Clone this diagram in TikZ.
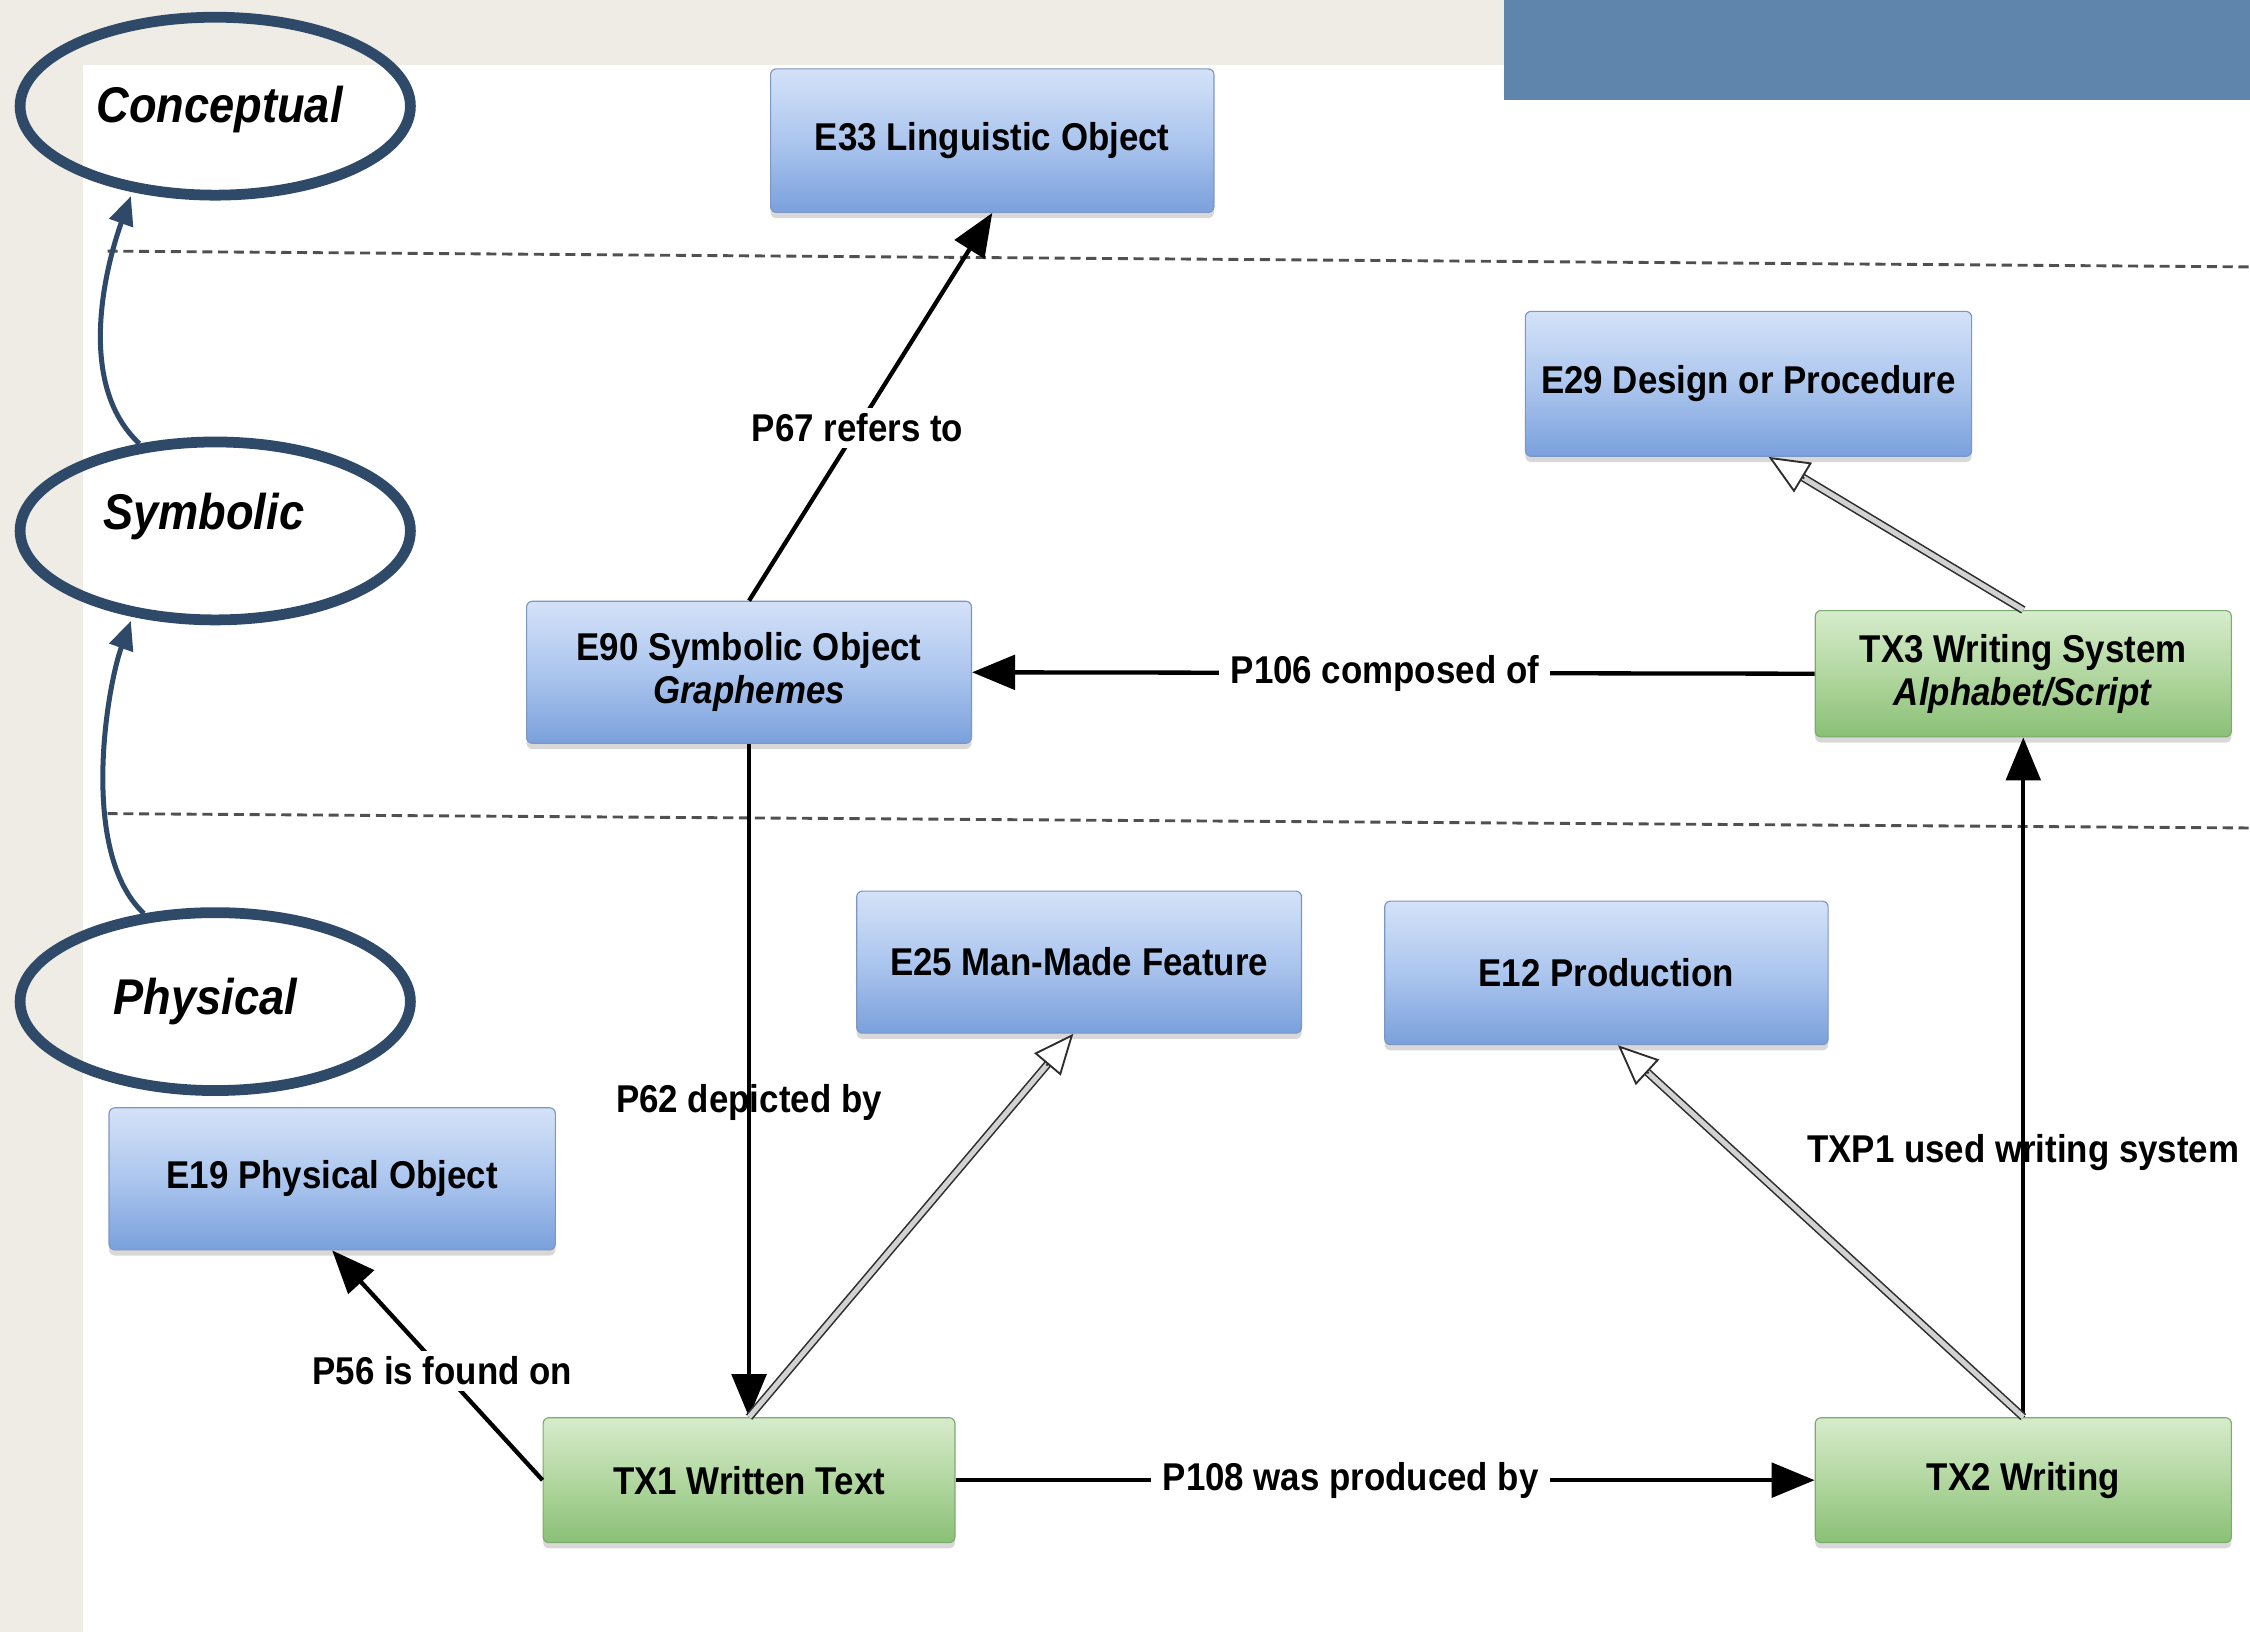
\documentclass[tikz,border=0pt]{standalone}
\usepackage{fontspec}
\setmainfont{Liberation Sans}[FakeStretch=0.9]
\usetikzlibrary{arrows.meta,shapes.geometric,shadows,calc}

\definecolor{bgbeige}{RGB}{239,235,229}
\definecolor{topblue}{RGB}{96,133,172}
\definecolor{navy}{RGB}{47,74,105}
\definecolor{bluetop}{RGB}{212,226,248}
\definecolor{bluemid}{RGB}{172,198,238}
\definecolor{bluebot}{RGB}{122,160,220}
\definecolor{blueedge}{RGB}{125,150,195}
\definecolor{greentop}{RGB}{214,236,204}
\definecolor{greenmid}{RGB}{178,215,160}
\definecolor{greenbot}{RGB}{138,192,118}
\definecolor{greenedge}{RGB}{125,170,110}
\definecolor{dashgray}{RGB}{80,80,80}

\begin{document}
\begin{tikzpicture}[x=1pt,y=-1pt,
  boxfont/.style={font=\fontsize{27}{30}\selectfont\bfseries},
  bluebox/.style={rectangle, rounded corners=4pt, draw=blueedge, line width=0.8pt,
     top color=bluetop, bottom color=bluebot, middle color=bluemid,
     align=center, boxfont, text=black, inner sep=0pt,
     drop shadow={shadow xshift=0pt, shadow yshift=-4pt, opacity=0.3}},
  greenbox/.style={bluebox, draw=greenedge,
     top color=greentop, bottom color=greenbot, middle color=greenmid},
  layer/.style={ellipse, draw=navy, line width=7.5pt, minimum width=272pt,
     minimum height=124pt, inner sep=0pt},
  ltext/.style={font=\fontsize{35}{38}\selectfont\bfseries\itshape, inner sep=0pt},
  lab/.style={boxfont, fill=white, inner xsep=8pt, inner ysep=4pt},
  labnf/.style={boxfont, inner sep=2pt},
  rel/.style={line width=3pt, -{Triangle[length=30pt,width=24pt]}},
  isa/.style={draw=gray!35!black, double=gray!35, double distance=3.5pt, line width=1.1pt},
  isatip/.style={draw=gray!35!black, line width=1.3pt,
     -{Triangle[length=28pt,width=24pt,fill=white]}},
  upcurve/.style={draw=navy, line width=3.5pt, shorten >=3pt,
     -{Triangle[length=20pt,width=17pt]}},
  dashline/.style={draw=dashgray, line width=2pt, dash pattern=on 7pt off 4pt}
]
% background
\useasboundingbox (0,0) rectangle (1568,1137);
\fill[bgbeige] (0,0) rectangle (1568,1137);
\fill[white] (58,45) rectangle (1568,1137);
\fill[topblue] (1048,0) rectangle (1568,70);

% dashed layer separators
\draw[dashline] (75,175) -- (1568,186);
\draw[dashline] (75,567) -- (1568,577);

% layer ellipses
\node[layer] (conc) at (150,74) {};
\node[layer] (sym) at (150,370) {};
\node[layer] (phys) at (150,698) {};
\node[ltext] (conct) at (153,76) {Conceptual};
\node[ltext] (symt) at (142,360) {Symbolic};
\node[ltext] (physt) at (143,698) {Physical};

\draw[upcurve] (phys.129) .. controls +(-45,-42) and +(-18,50) .. (sym.226);
\draw[upcurve] (sym.131) .. controls +(-45,-42) and +(-18,50) .. (conc.226);

% boxes
\node[bluebox, minimum width=309pt, minimum height=100pt] (e33) at (691.5,98) {E33 Linguistic Object};
\node[bluebox, minimum width=311pt, minimum height=101pt] (e29) at (1218.5,267.5) {E29 Design or Procedure};
\node[bluebox, minimum width=310pt, minimum height=99pt] (e90) at (522,468.5) {E90 Symbolic Object\\\textit{Graphemes}};
\node[greenbox, minimum width=290pt, minimum height=88pt] (tx3) at (1410,469.5) {TX3 Writing System\\\textit{Alphabet/Script}};
\node[bluebox, minimum width=310pt, minimum height=99pt] (e25) at (752,670.5) {E25 Man-Made Feature};
\node[bluebox, minimum width=309pt, minimum height=100pt] (e12) at (1119.5,678) {E12 Production};
\node[bluebox, minimum width=311pt, minimum height=99pt] (e19) at (231.5,821.5) {E19 Physical Object};
\node[greenbox, minimum width=287pt, minimum height=87pt] (tx1) at (522,1031.5) {TX1 Written Text};
\node[greenbox, minimum width=290pt, minimum height=87pt] (tx2) at (1410,1031.5) {TX2 Writing};

% tips for subclass arrows
\coordinate (e29t) at ($(e29.south)+(14,0)$);
\coordinate (e25t) at ($(e25.south)+(-4,0)$);
\coordinate (e12t) at ($(e12.south)+(8,0)$);

% property connectors
\draw[rel] (e90.north) -- node[lab, pos=0.446] {P67 refers to} (e33.south);
\draw[rel] (tx3.west) -- node[lab, pos=0.51] {P106 composed of} (e90.east);
\draw[rel] (e90.south) -- node[labnf, pos=0.532] {P62 depicted by} (tx1.north);
\draw[rel] (tx1.west) -- node[lab, pos=0.477] {P56 is found on} (e19.south);
\draw[rel] (tx1.east) -- node[lab, pos=0.46] {P108 was produced by} (tx2.west);
\draw[rel] (tx2.north) -- node[labnf, pos=0.39] {TXP1 used writing system} (tx3.south);

% subclass (hollow) connectors
\draw[isa] (tx3.north) -- ($(e29t)!27pt!(tx3.north)$);
\draw[isatip] ($(e29t)!29pt!(tx3.north)$) -- (e29t);
\draw[isa] (tx1.north) -- ($(e25t)!27pt!(tx1.north)$);
\draw[isatip] ($(e25t)!29pt!(tx1.north)$) -- (e25t);
\draw[isa] (tx2.north) -- ($(e12t)!27pt!(tx2.north)$);
\draw[isatip] ($(e12t)!29pt!(tx2.north)$) -- (e12t);
\end{tikzpicture}
\end{document}
